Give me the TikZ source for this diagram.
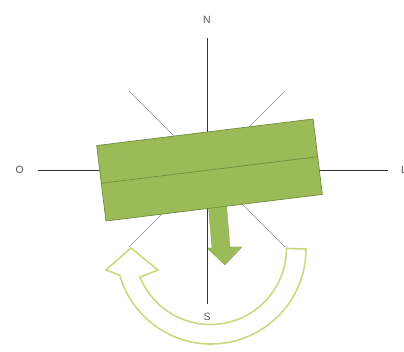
\documentclass[tikz,border=0pt]{standalone}
\usepackage{fontspec}
\setmainfont{Liberation Sans}
\usetikzlibrary{positioning, calc}
\definecolor{barGreen}{HTML}{9BBB59}
\definecolor{barEdge}{HTML}{6F8A3A}
\definecolor{turnLine}{RGB}{204,216,128}

\begin{document}
\begin{tikzpicture}[x=1pt, y=1pt,
  lbl/.style={font=\fontsize{10.5}{12}\selectfont, text=black!65, inner sep=0pt},
  axis/.style={draw=black!80, line width=0.9pt},
  diag/.style={draw=black!45, line width=0.5pt},
  bar/.style={draw=barEdge, fill=barGreen, line width=0.7pt, rotate=7,
              minimum width=218pt, minimum height=76pt, inner sep=0pt},
  push/.style={fill=barGreen, draw=barGreen!85!black, line width=0.3pt},
  turn/.style={draw=turnLine, line width=1.6pt, line join=miter}
]
  \useasboundingbox (0,0) rectangle (404,352);

  % compass
  \coordinate (ctr) at (207,183);
  \coordinate (axN) at (207,314);
  \coordinate (axS) at (207,48);
  \coordinate (axO) at (38,182);
  \coordinate (axL) at (388,182);
  \node[lbl, above=14pt of axN] (N) {N};
  \node[lbl, below=9pt of axS] (S) {S};
  \node[lbl, left=14pt of axO] (O) {O};
  \node[lbl, right=13pt of axL] (L) {L};
  \foreach \a in {45,135,225,315}
    \draw[diag] (ctr) -- ++(\a:110);

  % push arrow under the bar
  \draw[push] (207,162) -- (225,164) -- (230,105) -- (242,105) -- (225,87)
    -- (207,104) -- (212,104) -- cycle;
  \draw[axis] (axN) -- (axS);
  \draw[axis] (axO) -- (axL);

  % bar
  \node[bar] (bar) at (209.5,182) {};
  \draw[barEdge, line width=0.7pt] (bar.west) -- (bar.east);

  % turning arrow
  \coordinate (pivot) at (211,103);
  \draw[turn] ($(pivot)+(0:95)$) arc[start angle=0, end angle=-164, radius=95]
    -- (106,82) -- (131,104) -- (158,82) -- (140,75)
    arc[start angle=-158, end angle=0, radius=76] -- cycle;
\end{tikzpicture}
\end{document}
